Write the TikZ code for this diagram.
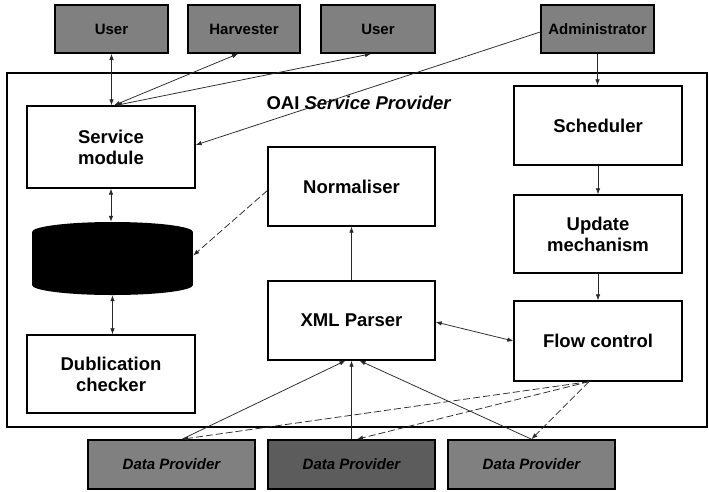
\documentclass[tikz,border=0pt]{standalone}
\usepackage{fontspec}
\setmainfont{Liberation Sans}
\usetikzlibrary{arrows.meta}
\definecolor{actorgray}{RGB}{128,128,128}
\definecolor{actordark}{RGB}{92,92,92}
\definecolor{linkgray}{RGB}{40,40,40}

\begin{document}
\begin{tikzpicture}[x=1pt,y=-1pt,
  module/.style={draw=black, line width=1.3pt, fill=white, align=center,
    font=\bfseries\fontsize{18.5}{21}\selectfont, inner sep=0pt},
  actor/.style={draw=black, line width=1.6pt, fill=actorgray, inner sep=0pt,
    minimum height=48pt, font=\bfseries\fontsize{15}{18}\selectfont},
  provider/.style={actor, minimum width=167pt, minimum height=49pt,
    font=\bfseries\itshape\fontsize{15}{18}\selectfont},
  link/.style={line width=0.75pt, draw=linkgray},
  dashlink/.style={link, dash pattern=on 7pt off 3pt},
  tip/.style={-{Latex[length=6pt,width=4.5pt]}},
  tips/.style={{Latex[length=6pt,width=4.5pt]}-{Latex[length=6pt,width=4.5pt]}},
]
\useasboundingbox (0,0) rectangle (709,491);

% outer frame of the service provider
\draw[line width=1.2pt] (7,73) rectangle (707,427);
\node[font=\bfseries\fontsize{18.5}{21}\selectfont] (title) at (359,103)
  {OAI \textit{Service Provider}};

% external actors
\node[actor, minimum width=113pt] (user1) at (111.5,29) {User};
\node[actor, minimum width=112pt] (harv) at (244,29) {Harvester};
\node[actor, minimum width=114pt] (user2) at (378,29) {User};
\node[actor, minimum width=113pt] (admin) at (597.5,29) {Administrator};

\node[provider] (dp1) at (171.5,464.5) {Data Provider};
\node[provider, fill=actordark] (dp2) at (351.5,464.5) {Data Provider};
\node[provider] (dp3) at (531.5,464.5) {Data Provider};

% internal modules
\node[module, minimum width=168pt, minimum height=82pt] (svc) at (111,147) {Service\\module};
\node[module, minimum width=168pt, minimum height=78pt] (dub) at (111,374) {Dublication\\checker};
\node[module, minimum width=167pt, minimum height=79pt] (norm) at (351.5,186.5) {Normaliser};
\node[module, minimum width=167pt, minimum height=79pt] (xml) at (351.5,320.5) {XML Parser};
\node[module, minimum width=168pt, minimum height=79pt] (sched) at (598,125.5) {Scheduler};
\node[module, minimum width=168pt, minimum height=78pt] (upd) at (598,234) {Update\\mechanism};
\node[module, minimum width=168pt, minimum height=80pt] (flow) at (598,341) {Flow control};

% database cylinder
\fill[black] (32,232) rectangle (193,285);
\fill[black] (112.5,232) ellipse [x radius=80.5, y radius=10];
\fill[black] (112.5,285) ellipse [x radius=80.5, y radius=10];
\node[inner sep=0pt, minimum width=161pt, minimum height=73pt] (db) at (112.5,258.5) {};

% connectors at the top
\draw[link,tips] (user1.south) -- (user1.south |- svc.north);
\draw[link,tips] ([xshift=-6pt]harv.south) -- ([xshift=3pt]svc.north);
\draw[link,tips] ([xshift=-7pt]user2.south) -- ([xshift=5pt]svc.north);
\draw[link,tip] ([yshift=-3pt]admin.west) -- ([yshift=2pt]svc.east);
\draw[link,tip] (admin.south) -- (admin.south |- sched.north);

% right-hand chain
\draw[link,tip] (sched.south) -- (upd.north);
\draw[link,tip] (upd.south) -- (flow.north);

% left-hand chain
\draw[link,tips] (svc.south) -- (svc.south |- db.north);
\draw[link,tips] (db.south) -- (db.south |- dub.north);
\draw[dashlink,tip] ([yshift=-4pt]norm.west) -- ([yshift=3pt]db.east);

% parser links
\draw[link,tip] (xml.north) -- (norm.south);
\draw[link,tips] ([yshift=-1.5pt]xml.east) -- (flow.west);
\draw[link,tip] ([xshift=10.5pt]dp1.north) -- ([xshift=-6pt]xml.south);
\draw[link,tip] (dp2.north) -- (xml.south);
\draw[link,tip] (dp3.north) -- ([xshift=8pt]xml.south);

% flow control to the data providers
\draw[dashlink,tip] ([xshift=-9pt]flow.south) -- ([xshift=10.5pt]dp1.north);
\draw[dashlink,tip] ([xshift=-9pt]flow.south) -- ([xshift=5.5pt]dp2.north);
\draw[dashlink,tip] ([xshift=-9pt]flow.south) -- (dp3.north);
\end{tikzpicture}
\end{document}
